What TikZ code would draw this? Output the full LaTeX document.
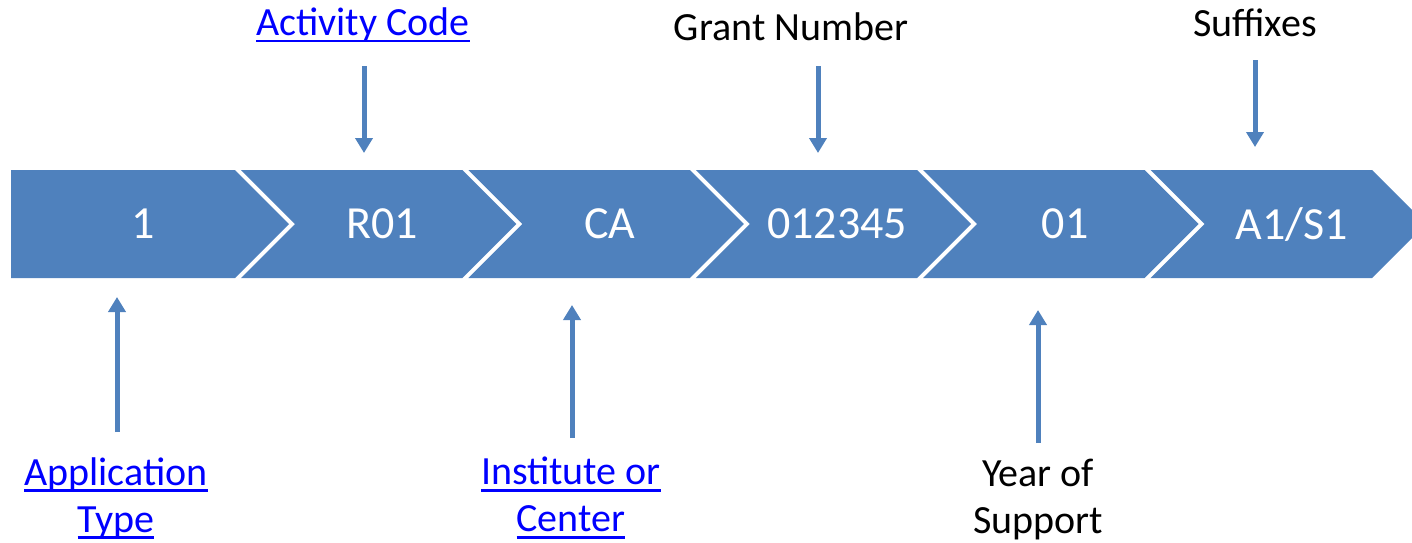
\documentclass[tikz,border=0pt]{standalone}
\usepackage{fontspec}
\setmainfont{Carlito}
\usepackage{xcolor}
\usepackage{tikz}
\usetikzlibrary{arrows.meta}
\definecolor{chevblue}{HTML}{4F81BD}
\definecolor{linkblue}{HTML}{0000FF}
\newcommand{\lnk}[1]{\leavevmode\setbox0\hbox{#1}\rlap{\rule[-0.17em]{\wd0}{0.06em}}\box0}

\begin{document}
\begin{tikzpicture}[x=1pt, y=-1pt,
    segtext/.style={text=white, font=\fontsize{46}{54}\selectfont},
    lbl/.style={align=center, font=\fontsize{40}{47}\selectfont},
    linklbl/.style={lbl, text=linkblue},
    ptr/.style={draw=chevblue, line width=5pt, -{Triangle[width=17pt,length=15pt]}}]
        \useasboundingbox (0,0) rectangle (1412,542);
        % chevrons
        \fill [chevblue] (11,170) -- (235,170) -- (289,224) -- (235,278) -- (11,278) -- cycle;
        \foreach \i in {1,...,5} {
            \pgfmathsetmacro{\a}{235+227.4*(\i-1)+6}
            \pgfmathsetmacro{\b}{235+227.4*\i}
            \fill [chevblue] (\a,170) -- (\b,170) -- (\b+54,224) -- (\b,278) -- (\a,278) -- (\a+54,224) -- cycle;
        }
        \node (seg1) at (143, 224) [segtext] {1};
        \node (seg2) at (382, 224) [segtext] {R01};
        \node (seg3) at (610, 224) [segtext] {CA};
        \node (seg4) at (837, 224) [segtext] {012345};
        \node (seg5) at (1065, 224) [segtext] {01};
        \node (seg6) at (1292, 224) [segtext] {A1/S1};
        % labels
        \node (actcode) at (363, 25) [linklbl] {\lnk{Activity Code}};
        \node (grantno) at (791, 27) [lbl] {Grant Number};
        \node (suffix) at (1255, 23) [lbl] {Suffixes};
        \node (apptype) at (116, 498) [linklbl] {\lnk{Application}\\\lnk{Type}};
        \node (inst) at (571, 498) [linklbl] {\lnk{Institute or}\\\lnk{Center}};
        \node (year) at (1038, 499) [lbl] {Year of\\Support};
        % arrow ends
        \coordinate (acttop) at (364, 66);
        \coordinate (actbot) at (364, 153);
        \coordinate (granttop) at (818, 66);
        \coordinate (grantbot) at (818, 153);
        \coordinate (sufftop) at (1255, 60);
        \coordinate (suffbot) at (1255, 147);
        \coordinate (appbot) at (117, 432);
        \coordinate (apptop) at (117, 297);
        \coordinate (instbot) at (572, 438);
        \coordinate (insttop) at (572, 305);
        \coordinate (yearbot) at (1038, 443);
        \coordinate (yeartop) at (1038, 310);
        \draw [ptr] (acttop) -- (actbot);
        \draw [ptr] (granttop) -- (grantbot);
        \draw [ptr] (sufftop) -- (suffbot);
        \draw [ptr] (appbot) -- (apptop);
        \draw [ptr] (instbot) -- (insttop);
        \draw [ptr] (yearbot) -- (yeartop);
    \end{tikzpicture}
\end{document}
